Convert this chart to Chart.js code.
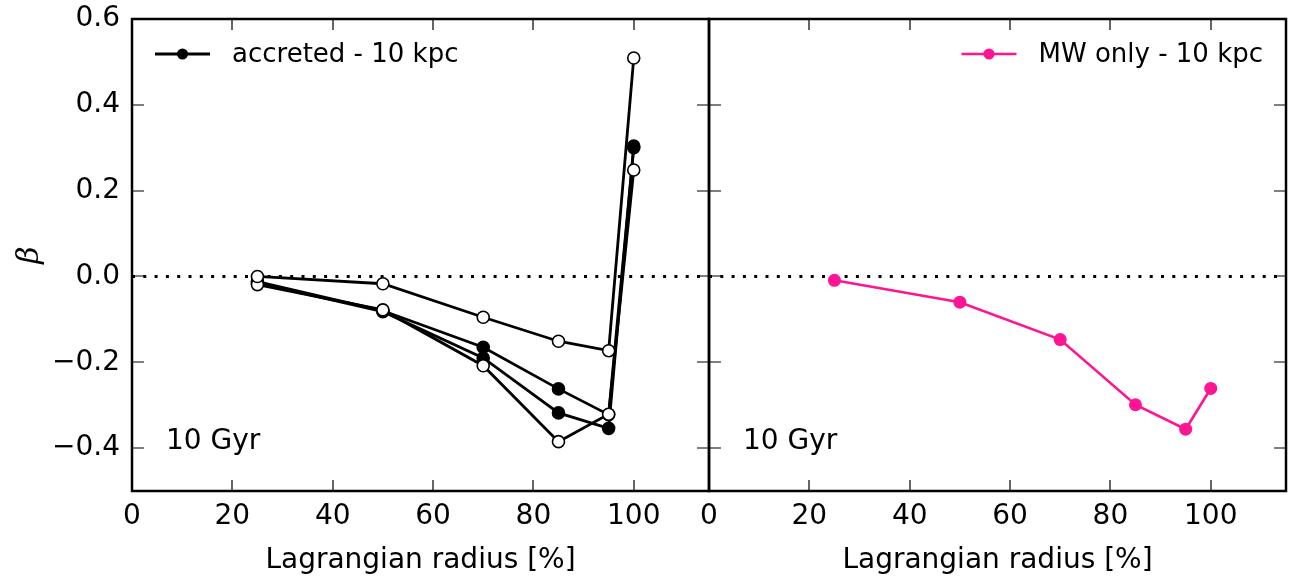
<!DOCTYPE html>
<html>
<head>
<meta charset="utf-8">
<script src="https://cdn.jsdelivr.net/npm/chart.js@4/dist/chart.umd.min.js"></script>
<style>
  body { margin: 0; background: #fff; }
  #wrap { position: relative; width: 1295px; height: 578px; }
  #wrap canvas { position: absolute; top: 0; }
</style>
</head>
<body>
<div id="wrap">
  <canvas id="leftChart" width="720" height="578" style="left:0;width:720px;height:578px"></canvas>
  <canvas id="rightChart" width="595" height="578" style="left:700px;width:595px;height:578px"></canvas>
</div>
<script>
// Lagrangian radius (%) of each point
const radii = [25, 50, 70, 85, 95, 100];

// accreted - 10 kpc (filled markers)
const accretedFilled1 = [-0.012, -0.080, -0.165, -0.262, -0.322, 0.300];
const accretedFilled2 = [-0.015, -0.082, -0.190, -0.318, -0.354, 0.304];
// accreted - 10 kpc (open markers)
const accretedOpen1 = [0.000, -0.017, -0.095, -0.151, -0.173, 0.509];
const accretedOpen2 = [-0.019, -0.078, -0.208, -0.385, -0.321, 0.248];

// MW only - 10 kpc
const mwOnly = [-0.009, -0.060, -0.147, -0.299, -0.356, -0.261];

// axes
const xTicks = [0, 20, 40, 60, 80, 100];
const yTicks = [-0.4, -0.2, 0.0, 0.2, 0.4, 0.6];
const xRange = [0, 115];
const yRange = [-0.5, 0.6];
const zeroLine = [0, 0];

const FONT = "'DejaVu Sans', sans-serif";
Chart.defaults.font.family = FONT;
Chart.defaults.color = "#000";

const pts = ys => radii.map((r, i) => ({ x: r, y: ys[i] }));

function fmtY(v) {
  return (v < 0 ? "\u2212" : "") + Math.abs(v).toFixed(1);
}

// frame, inward ticks, legend and the "10 Gyr" note
function framePlugin(legend) {
  return {
    id: "frame",
    afterDatasetsDraw(chart) {
      const ctx = chart.ctx;
      const a = chart.chartArea;
      const xs = chart.scales.x, ys = chart.scales.y;
      ctx.save();
      ctx.strokeStyle = "#000";
      ctx.lineWidth = 1.2;
      ctx.beginPath();
      xTicks.forEach(v => {
        const px = Math.round(xs.getPixelForValue(v));
        ctx.moveTo(px, a.bottom); ctx.lineTo(px, a.bottom - 11);
        ctx.moveTo(px, a.top); ctx.lineTo(px, a.top + 11);
      });
      yTicks.forEach(v => {
        const py = Math.round(ys.getPixelForValue(v));
        ctx.moveTo(a.left, py); ctx.lineTo(a.left + 12, py);
        ctx.moveTo(a.right, py); ctx.lineTo(a.right - 12, py);
      });
      ctx.stroke();
      ctx.lineWidth = 2.5;
      ctx.strokeRect(a.left, a.top, a.right - a.left, a.bottom - a.top);

      // note
      ctx.fillStyle = "#000";
      ctx.font = "28px " + FONT;
      ctx.textBaseline = "alphabetic";
      ctx.textAlign = "left";
      ctx.fillText("10 Gyr", a.left + 34, a.bottom - 42);

      // legend
      const ds = chart.data.datasets[legend.index];
      ctx.font = "26px " + FONT;
      const tw = ctx.measureText(ds.label).width;
      const ly = a.top + 35;
      const lx = legend.align === "left" ? a.left + 23 : a.right - 23 - tw - 77;
      ctx.strokeStyle = ds.borderColor;
      ctx.lineWidth = ds.borderWidth;
      ctx.beginPath();
      ctx.moveTo(lx, ly); ctx.lineTo(lx + 55, ly);
      ctx.stroke();
      ctx.fillStyle = ds.pointBackgroundColor;
      ctx.beginPath();
      ctx.arc(lx + 27.5, ly, 5.5, 0, Math.PI * 2);
      ctx.fill();
      ctx.fillStyle = "#000";
      ctx.textBaseline = "middle";
      ctx.fillText(ds.label, lx + 77, ly + 1);
      ctx.restore();
    }
  };
}

function scales(showY) {
  return {
    x: {
      type: "linear", min: xRange[0], max: xRange[1],
      afterBuildTicks: s => { s.ticks = xTicks.map(v => ({ value: v })); },
      afterFit: s => { s.height = 87; s.paddingLeft = 0; s.paddingRight = 0; },
      grid: { display: false, drawTicks: false }, border: { display: false },
      ticks: { font: { size: 28 }, padding: 9, maxRotation: 0, autoSkip: false, callback: v => String(v) },
      title: { display: true, text: "Lagrangian radius [%]", font: { size: 28 }, padding: { top: 0, bottom: 0 } }
    },
    y: {
      type: "linear", min: yRange[0], max: yRange[1],
      afterBuildTicks: s => { s.ticks = yTicks.map(v => ({ value: v })); },
      afterFit: s => { s.width = showY ? 132 : 0; s.paddingTop = 0; s.paddingBottom = 0; },
      grid: { display: false, drawTicks: false }, border: { display: false },
      ticks: { display: showY, font: { size: 28 }, padding: 12, autoSkip: false, callback: v => fmtY(v) },
      title: { display: showY, text: "\u03B2", font: { size: 30, style: "italic", family: "'DejaVu Serif', serif" }, padding: { top: 12, bottom: 0 } }
    }
  };
}

const zeroDataset = {
  label: "zero",
  data: xRange.map((x, i) => ({ x: x, y: zeroLine[i] })),
  borderColor: "#000", borderWidth: 3, borderDash: [3, 8.3],
  pointRadius: 0, order: 10
};

function lineSet(label, ys, fill, color, order) {
  return {
    label: label, data: pts(ys),
    borderColor: color, borderWidth: 2.8,
    pointRadius: 6, pointBorderWidth: 1.6,
    pointBackgroundColor: fill, pointBorderColor: color,
    tension: 0, order: order
  };
}

new Chart(document.getElementById("leftChart"), {
  type: "line",
  data: {
    datasets: [
      lineSet("accreted - 10 kpc", accretedFilled1, "#000", "#000", 2),
      lineSet("accreted - 10 kpc", accretedFilled2, "#000", "#000", 2),
      lineSet("accreted - 10 kpc", accretedOpen1, "#fff", "#000", 1),
      lineSet("accreted - 10 kpc", accretedOpen2, "#fff", "#000", 1),
      zeroDataset
    ]
  },
  options: {
    responsive: false, animation: false, maintainAspectRatio: false,
    layout: { padding: { top: 19, right: 11, left: 0, bottom: 0 } },
    plugins: { legend: { display: false }, tooltip: { enabled: false } },
    scales: scales(true)
  },
  plugins: [framePlugin({ index: 0, align: "left" })]
});

const mwSet = lineSet("MW only - 10 kpc", mwOnly, "#ff1493", "#ff1493", 1);
mwSet.borderWidth = 2.6;
mwSet.pointRadius = 6.5;
mwSet.pointBorderWidth = 0;

new Chart(document.getElementById("rightChart"), {
  type: "line",
  data: { datasets: [mwSet, Object.assign({}, zeroDataset)] },
  options: {
    responsive: false, animation: false, maintainAspectRatio: false,
    layout: { padding: { top: 19, right: 9, left: 9, bottom: 0 } },
    plugins: { legend: { display: false }, tooltip: { enabled: false } },
    scales: scales(false)
  },
  plugins: [framePlugin({ index: 0, align: "right" })]
});
</script>
</body>
</html>
